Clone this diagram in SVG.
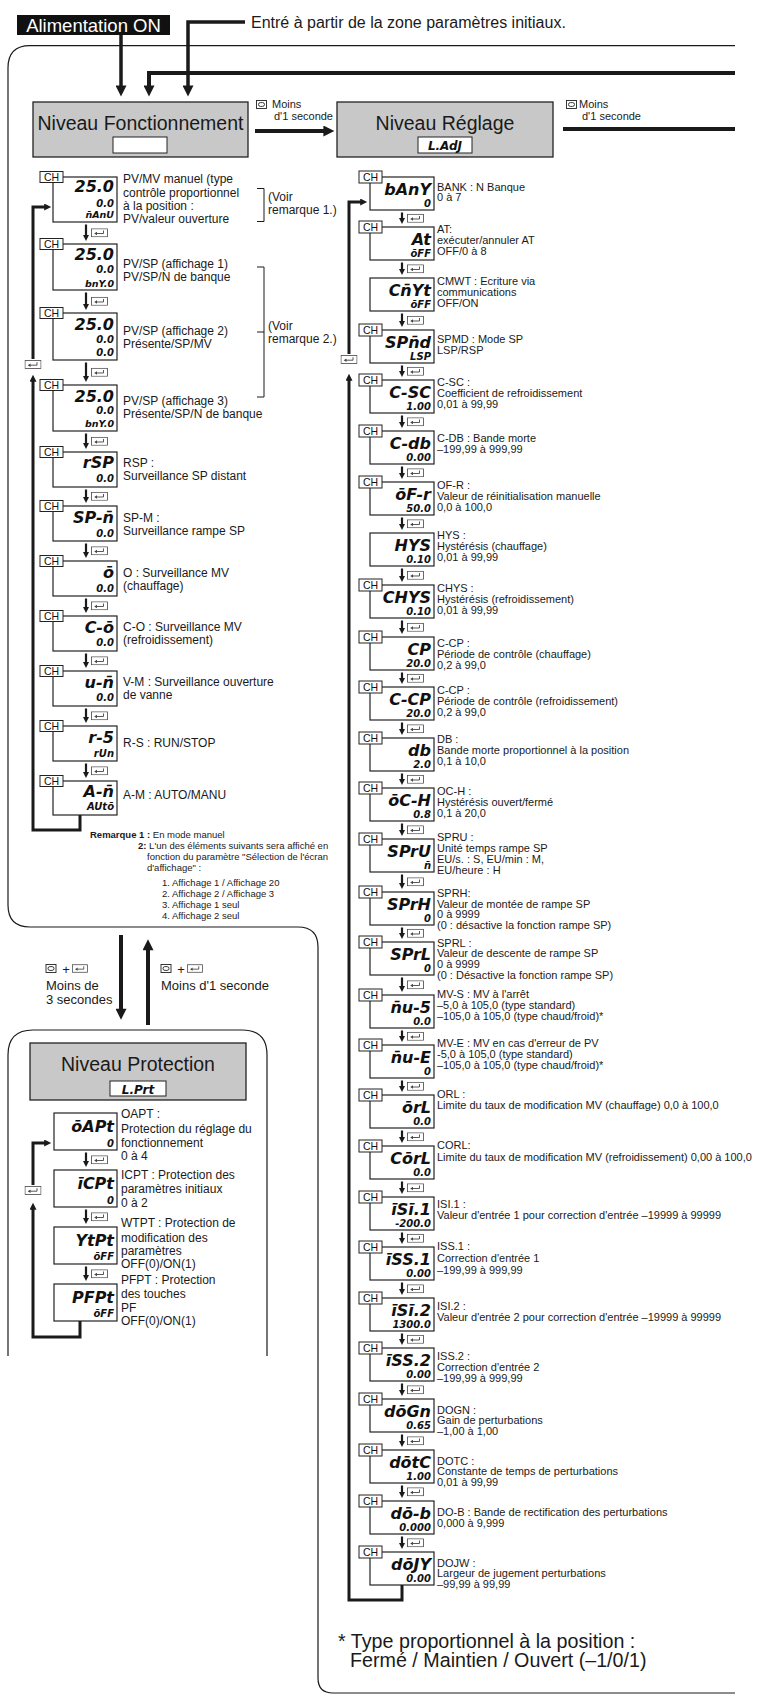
<svg xmlns="http://www.w3.org/2000/svg" width="759" height="1698" viewBox="0 0 759 1698">
<defs>
<style>
.t{font-family:"Liberation Sans",Arial,Helvetica,sans-serif;fill:#1a1a1a}
.wt{font-family:"Liberation Sans",Arial,Helvetica,sans-serif;fill:#fff}
.lb{font-size:12px}
.rl{font-size:11px}
.rm{font-size:9.5px}
.sm{font-size:11px}
.big{font-size:13px}
.ttl{font-size:19.5px;text-anchor:middle}
.ft{font-size:19.7px}
.lcd{font-family:"DejaVu Sans",sans-serif;font-style:italic;fill:#111;text-anchor:end}
.lcm{font-family:"DejaVu Sans",sans-serif;font-style:italic;font-weight:bold;font-size:12px;fill:#111;text-anchor:middle}
.s1{font-size:16px;font-weight:bold}
.s2{font-size:10px;font-weight:bold}
.s3{font-size:9.5px;font-weight:bold}
.d{fill:#fff;stroke:#222;stroke-width:1.2}
.ch{fill:#fff;stroke:#222;stroke-width:1}
.cht{font-family:"Liberation Sans",Arial,sans-serif;font-size:10.5px;text-anchor:middle;fill:#111}
.lvl{fill:#c8c8c8;stroke:#222;stroke-width:1.3}
.wb{fill:#fff;stroke:#222;stroke-width:1}
.w{fill:none;stroke:#1a1a1a}
.ar{fill:none;stroke:#1a1a1a;stroke-width:2.2}
.lp{fill:none;stroke:#1a1a1a;stroke-width:3}
</style>
<marker id="ms" viewBox="0 0 10 10" refX="2" refY="5" markerWidth="6" markerHeight="6" markerUnits="userSpaceOnUse" orient="auto"><path d="M0,0L10,5L0,10Z" fill="#1a1a1a"/></marker>
<marker id="mm" viewBox="0 0 10 10" refX="2" refY="5" markerWidth="8" markerHeight="7" markerUnits="userSpaceOnUse" orient="auto"><path d="M0,0L10,5L0,10Z" fill="#1a1a1a"/></marker>
<marker id="mb" viewBox="0 0 10 10" refX="2" refY="5" markerWidth="13" markerHeight="11" markerUnits="userSpaceOnUse" orient="auto"><path d="M0,0L10,5L0,10Z" fill="#1a1a1a"/></marker>
<marker id="ml" viewBox="0 0 10 10" refX="2" refY="5" markerWidth="15" markerHeight="11" markerUnits="userSpaceOnUse" orient="auto"><path d="M0,0L10,5L0,10Z" fill="#1a1a1a"/></marker>
<symbol id="kret" viewBox="0 0 17 9"><rect x="0.5" y="0.5" width="16" height="8" fill="#fff" stroke="#444" stroke-width="0.8"/><path d="M12.5,2.2V5.2H5.5" fill="none" stroke="#444" stroke-width="0.9"/><path d="M6,3.4L3.2,5.2L6,7Z" fill="#444"/></symbol>
<symbol id="kmode" viewBox="0 0 11 9"><rect x="0.5" y="0.5" width="10" height="8" fill="#fff" stroke="#222" stroke-width="0.9"/><rect x="2.5" y="2.6" width="6" height="3.8" rx="1.9" fill="none" stroke="#222" stroke-width="0.9"/></symbol>
</defs>
<rect width="759" height="1698" fill="#fff"/>

<g id="frames">
<path class="w" stroke-width="1.2" d="M735,45.7H30Q8,45.7 8,68V905Q8,927 30,927H298Q318,927 318,947V1678Q318,1693 333,1693H735"/>
<path class="w" stroke-width="1.2" d="M8,1356V1055Q8,1030 33,1030H242Q267,1030 267,1055V1356"/>
</g>

<g id="power"><rect x="17" y="15" width="153" height="20" fill="#111"/><text class="wt" x="93.5" y="31.5" font-size="18.5" text-anchor="middle">Alimentation ON</text></g>
<g id="entry-note"><text class="t" x="251" y="28" font-size="16">Entré à partir de la zone paramètres initiaux.</text></g>

<g id="connectors">
<path class="w" stroke-width="3.5" d="M121,35V87.6" marker-end="url(#mb)"/>
<path class="w" stroke-width="4" d="M735,73H149V87.6" marker-end="url(#mb)"/>
<path class="w" stroke-width="3.5" d="M245,22H188V87.6" marker-end="url(#mb)"/>
<path class="w" stroke-width="4" d="M255,131H325.6" marker-end="url(#mb)"/>
<path class="w" stroke-width="4" d="M563,129H735"/>
<path class="w" stroke-width="4" d="M121,935V1011" marker-end="url(#ml)"/>
<path class="w" stroke-width="4" d="M148,1025V948" marker-end="url(#ml)"/>
<use href="#kmode" x="256" y="100" width="11" height="9"/>
<text class="t sm" x="272" y="108">Moins</text><text class="t sm" x="274" y="120">d'1 seconde</text>
<use href="#kmode" x="566" y="100" width="11" height="9"/>
<text class="t sm" x="579" y="108">Moins</text><text class="t sm" x="582" y="120">d'1 seconde</text>
<use href="#kmode" x="45" y="964" width="12" height="9"/><text class="t big" x="66" y="974" text-anchor="middle">+</text><use href="#kret" x="72" y="964" width="16" height="9"/>
<text class="t big" x="46" y="990">Moins de</text><text class="t big" x="46" y="1004">3 secondes</text>
<use href="#kmode" x="160" y="964" width="12" height="9"/><text class="t big" x="181" y="974" text-anchor="middle">+</text><use href="#kret" x="187" y="964" width="16" height="9"/>
<text class="t big" x="161" y="990">Moins d'1 seconde</text>

<path class="ar" d="M86,224.5V236.2" marker-end="url(#ms)"/><use href="#kret" x="91" y="228.3" width="17" height="9"/>
<path class="ar" d="M86,292.5V305.2" marker-end="url(#ms)"/><use href="#kret" x="91" y="296.8" width="17" height="9"/>
<path class="ar" d="M86,362.5V377.2" marker-end="url(#ms)"/><use href="#kret" x="91" y="367.8" width="17" height="9"/>
<path class="ar" d="M86,433.5V444.2" marker-end="url(#ms)"/><use href="#kret" x="91" y="436.8" width="17" height="9"/>
<path class="ar" d="M86,489.5V498.2" marker-end="url(#ms)"/><use href="#kret" x="91" y="491.8" width="17" height="9"/>
<path class="ar" d="M86,543.5V553.2" marker-end="url(#ms)"/><use href="#kret" x="91" y="546.3" width="17" height="9"/>
<path class="ar" d="M86,598.5V608.2" marker-end="url(#ms)"/><use href="#kret" x="91" y="601.3" width="17" height="9"/>
<path class="ar" d="M86,653.5V663.2" marker-end="url(#ms)"/><use href="#kret" x="91" y="656.3" width="17" height="9"/>
<path class="ar" d="M86,708.5V718.2" marker-end="url(#ms)"/><use href="#kret" x="91" y="711.3" width="17" height="9"/>
<path class="ar" d="M86,763.5V773.2" marker-end="url(#ms)"/><use href="#kret" x="91" y="766.3" width="17" height="9"/>
<path class="lp" d="M80,815V830H33V380.4" marker-end="url(#mm)"/>
<use href="#kret" x="24.5" y="360" width="17" height="9"/>
<path class="lp" d="M33,359V207H45.6" marker-end="url(#mm)"/>

<path class="ar" d="M86,1152.5V1162.2" marker-end="url(#ms)"/><use href="#kret" x="91" y="1155.3" width="17" height="9"/>
<path class="ar" d="M86,1209.5V1219.2" marker-end="url(#ms)"/><use href="#kret" x="91" y="1212.3" width="17" height="9"/>
<path class="ar" d="M86,1266.5V1276.2" marker-end="url(#ms)"/><use href="#kret" x="91" y="1269.3" width="17" height="9"/>
<path class="lp" d="M80,1321V1337H33V1208.4" marker-end="url(#mm)"/>
<use href="#kret" x="24.5" y="1186" width="17" height="9"/>
<path class="lp" d="M33,1185V1143H45.6" marker-end="url(#mm)"/>

<path class="ar" d="M402,212.5V219.2" marker-end="url(#ms)"/><use href="#kret" x="407" y="213.8" width="17" height="9"/>
<path class="ar" d="M402,262.5V270.2" marker-end="url(#ms)"/><use href="#kret" x="407" y="264.3" width="17" height="9"/>
<path class="ar" d="M402,313.5V322.2" marker-end="url(#ms)"/><use href="#kret" x="407" y="315.8" width="17" height="9"/>
<path class="ar" d="M402,365.5V372.2" marker-end="url(#ms)"/><use href="#kret" x="407" y="366.8" width="17" height="9"/>
<path class="ar" d="M402,415.5V423.2" marker-end="url(#ms)"/><use href="#kret" x="407" y="417.3" width="17" height="9"/>
<path class="ar" d="M402,466.5V474.2" marker-end="url(#ms)"/><use href="#kret" x="407" y="468.3" width="17" height="9"/>
<path class="ar" d="M402,517.5V525.2" marker-end="url(#ms)"/><use href="#kret" x="407" y="519.3" width="17" height="9"/>
<path class="ar" d="M402,568.5V577.2" marker-end="url(#ms)"/><use href="#kret" x="407" y="570.8" width="17" height="9"/>
<path class="ar" d="M402,620.5V629.2" marker-end="url(#ms)"/><use href="#kret" x="407" y="622.8" width="17" height="9"/>
<path class="ar" d="M402,672.5V679.2" marker-end="url(#ms)"/><use href="#kret" x="407" y="673.8" width="17" height="9"/>
<path class="ar" d="M402,722.5V730.2" marker-end="url(#ms)"/><use href="#kret" x="407" y="724.3" width="17" height="9"/>
<path class="ar" d="M402,773.5V780.2" marker-end="url(#ms)"/><use href="#kret" x="407" y="774.8" width="17" height="9"/>
<path class="ar" d="M402,823.5V831.2" marker-end="url(#ms)"/><use href="#kret" x="407" y="825.3" width="17" height="9"/>
<path class="ar" d="M402,874.5V884.2" marker-end="url(#ms)"/><use href="#kret" x="407" y="877.3" width="17" height="9"/>
<path class="ar" d="M402,927.5V934.2" marker-end="url(#ms)"/><use href="#kret" x="407" y="928.8" width="17" height="9"/>
<path class="ar" d="M402,977.5V987.2" marker-end="url(#ms)"/><use href="#kret" x="407" y="980.3" width="17" height="9"/>
<path class="ar" d="M402,1030.5V1037.2" marker-end="url(#ms)"/><use href="#kret" x="407" y="1031.8" width="17" height="9"/>
<path class="ar" d="M402,1080.5V1087.2" marker-end="url(#ms)"/><use href="#kret" x="407" y="1081.8" width="17" height="9"/>
<path class="ar" d="M402,1130.5V1138.2" marker-end="url(#ms)"/><use href="#kret" x="407" y="1132.3" width="17" height="9"/>
<path class="ar" d="M402,1181.5V1189.2" marker-end="url(#ms)"/><use href="#kret" x="407" y="1183.3" width="17" height="9"/>
<path class="ar" d="M402,1232.5V1239.2" marker-end="url(#ms)"/><use href="#kret" x="407" y="1233.8" width="17" height="9"/>
<path class="ar" d="M402,1282.5V1290.2" marker-end="url(#ms)"/><use href="#kret" x="407" y="1284.3" width="17" height="9"/>
<path class="ar" d="M402,1333.5V1340.2" marker-end="url(#ms)"/><use href="#kret" x="407" y="1334.8" width="17" height="9"/>
<path class="ar" d="M402,1383.5V1391.2" marker-end="url(#ms)"/><use href="#kret" x="407" y="1385.3" width="17" height="9"/>
<path class="ar" d="M402,1434.5V1442.2" marker-end="url(#ms)"/><use href="#kret" x="407" y="1436.3" width="17" height="9"/>
<path class="ar" d="M402,1485.5V1493.2" marker-end="url(#ms)"/><use href="#kret" x="407" y="1487.3" width="17" height="9"/>
<path class="ar" d="M402,1536.5V1544.2" marker-end="url(#ms)"/><use href="#kret" x="407" y="1538.3" width="17" height="9"/>
<path class="lp" d="M402,1585V1600H349V379.4" marker-end="url(#mm)"/>
<use href="#kret" x="340.5" y="355" width="17" height="9"/>
<path class="lp" d="M349,354V202H361.6" marker-end="url(#mm)"/>
</g>

<g id="brackets">
<path class="w" stroke-width="1" d="M257,188.5H264V221.5H257"/>
<text class="t lb"><tspan x="268" y="201">(Voir</tspan><tspan x="268" y="214">remarque 1.)</tspan></text>
<path class="w" stroke-width="1" d="M257,267H264V397H257M257,332H264"/>
<text class="t lb"><tspan x="268" y="330">(Voir</tspan><tspan x="268" y="343">remarque 2.)</tspan></text>
</g>

<g id="lvl-fonct"><rect class="lvl" x="33" y="102" width="215" height="55"/><text class="t ttl" x="140.5" y="130">Niveau Fonctionnement</text><rect class="wb" x="113" y="137" width="54" height="16"/></g>
<g id="lvl-reglage"><rect class="lvl" x="337" y="102" width="216" height="55"/><text class="t ttl" x="445" y="130">Niveau Réglage</text><rect class="wb" x="418" y="137" width="54" height="16"/><text class="lcm" x="445" y="150">L.AdJ</text></g>
<g id="lvl-protect"><rect class="lvl" x="30" y="1043" width="216" height="57"/><text class="t ttl" x="138" y="1071">Niveau Protection</text><rect class="wb" x="110" y="1081" width="56" height="15"/><text class="lcm" x="138" y="1093.5">L.Prt</text></g>

<g id="f-pvmv"><rect class="d" x="53" y="177" width="64" height="45"/><rect class="ch" x="40" y="171.5" width="23" height="11"/><text class="cht" x="51.5" y="180.8">CH</text><text class="lcd s1" x="114" y="192">25.0</text><text class="lcd s2" x="114" y="207">0.0</text><text class="lcd s3" x="114" y="218">n̄AnU</text><text class="t lb"><tspan x="123" y="183">PV/MV manuel (type</tspan><tspan x="123" y="197">contrôle proportionnel</tspan><tspan x="123" y="210">à la position :</tspan><tspan x="123" y="223">PV/valeur ouverture</tspan></text></g>
<g id="f-aff1"><rect class="d" x="53" y="244" width="64" height="46"/><rect class="ch" x="40" y="238.5" width="23" height="11"/><text class="cht" x="51.5" y="247.8">CH</text><text class="lcd s1" x="114" y="260">25.0</text><text class="lcd s2" x="114" y="273">0.0</text><text class="lcd s3" x="114" y="287">bnY.0</text><text class="t lb"><tspan x="123" y="268">PV/SP (affichage 1)</tspan><tspan x="123" y="281">PV/SP/N de banque</tspan></text></g>
<g id="f-aff2"><rect class="d" x="53" y="313" width="64" height="47"/><rect class="ch" x="40" y="307.5" width="23" height="11"/><text class="cht" x="51.5" y="316.8">CH</text><text class="lcd s1" x="114" y="330">25.0</text><text class="lcd s2" x="114" y="343">0.0</text><text class="lcd s2" x="114" y="356">0.0</text><text class="t lb"><tspan x="123" y="335">PV/SP (affichage 2)</tspan><tspan x="123" y="348">Présente/SP/MV</tspan></text></g>
<g id="f-aff3"><rect class="d" x="53" y="385" width="64" height="46"/><rect class="ch" x="40" y="379.5" width="23" height="11"/><text class="cht" x="51.5" y="388.8">CH</text><text class="lcd s1" x="114" y="402">25.0</text><text class="lcd s2" x="114" y="414">0.0</text><text class="lcd s3" x="114" y="427">bnY.0</text><text class="t lb"><tspan x="123" y="405">PV/SP (affichage 3)</tspan><tspan x="123" y="418">Présente/SP/N de banque</tspan></text></g>
<g id="f-rsp"><rect class="d" x="53" y="452" width="64" height="35"/><rect class="ch" x="40" y="446.5" width="23" height="11"/><text class="cht" x="51.5" y="455.8">CH</text><text class="lcd s1" x="114" y="468">rSP</text><text class="lcd s2" x="114" y="482">0.0</text><text class="t lb"><tspan x="123" y="467">RSP :</tspan><tspan x="123" y="480">Surveillance SP distant</tspan></text></g>
<g id="f-spm"><rect class="d" x="53" y="506" width="64" height="35"/><rect class="ch" x="40" y="500.5" width="23" height="11"/><text class="cht" x="51.5" y="509.8">CH</text><text class="lcd s1" x="114" y="523">SP-n̄</text><text class="lcd s2" x="114" y="537">0.0</text><text class="t lb"><tspan x="123" y="522">SP-M :</tspan><tspan x="123" y="535">Surveillance rampe SP</tspan></text></g>
<g id="f-o"><rect class="d" x="53" y="561" width="64" height="35"/><rect class="ch" x="40" y="555.5" width="23" height="11"/><text class="cht" x="51.5" y="564.8">CH</text><text class="lcd s1" x="114" y="578">ō</text><text class="lcd s2" x="114" y="592">0.0</text><text class="t lb"><tspan x="123" y="577">O : Surveillance MV</tspan><tspan x="123" y="590">(chauffage)</tspan></text></g>
<g id="f-co"><rect class="d" x="53" y="616" width="64" height="35"/><rect class="ch" x="40" y="610.5" width="23" height="11"/><text class="cht" x="51.5" y="619.8">CH</text><text class="lcd s1" x="114" y="633">C-ō</text><text class="lcd s2" x="114" y="646">0.0</text><text class="t lb"><tspan x="123" y="631">C-O : Surveillance MV</tspan><tspan x="123" y="644">(refroidissement)</tspan></text></g>
<g id="f-vm"><rect class="d" x="53" y="671" width="64" height="35"/><rect class="ch" x="40" y="665.5" width="23" height="11"/><text class="cht" x="51.5" y="674.8">CH</text><text class="lcd s1" x="114" y="688">u-n̄</text><text class="lcd s2" x="114" y="701">0.0</text><text class="t lb"><tspan x="123" y="686">V-M : Surveillance ouverture</tspan><tspan x="123" y="699">de vanne</tspan></text></g>
<g id="f-rs"><rect class="d" x="53" y="726" width="64" height="35"/><rect class="ch" x="40" y="720.5" width="23" height="11"/><text class="cht" x="51.5" y="729.8">CH</text><text class="lcd s1" x="114" y="743">r-5</text><text class="lcd s2" x="114" y="757">rUn</text><text class="t lb" x="123" y="747">R-S : RUN/STOP</text></g>
<g id="f-am"><rect class="d" x="53" y="781" width="64" height="34"/><rect class="ch" x="40" y="775.5" width="23" height="11"/><text class="cht" x="51.5" y="784.8">CH</text><text class="lcd s1" x="114" y="797">A-n̄</text><text class="lcd s2" x="114" y="810">AUtō</text><text class="t lb" x="123" y="799">A-M : AUTO/MANU</text></g>

<g id="remarks">
<text class="t rm" x="90" y="838"><tspan font-weight="bold">Remarque 1 :</tspan> En mode manuel</text>
<text class="t rm" x="138" y="849"><tspan font-weight="bold">2:</tspan> L'un des éléments suivants sera affiché en</text>
<text class="t rm" x="147" y="860">fonction du paramètre "Sélection de l'écran</text>
<text class="t rm" x="147" y="871">d'affichage" :</text>
<text class="t rm"><tspan x="162" y="886">1. Affichage 1 / Affichage 20</tspan><tspan x="162" y="897">2. Affichage 2 / Affichage 3</tspan><tspan x="162" y="908">3. Affichage 1 seul</tspan><tspan x="162" y="919">4. Affichage 2 seul</tspan></text>
</g>

<g id="p-oapt"><rect class="d" x="54" y="1113" width="63" height="37"/><text class="lcd s1" x="114" y="1132">ōAPt</text><text class="lcd s2" x="114" y="1147">0</text><text class="t lb"><tspan x="121" y="1118">OAPT :</tspan><tspan x="121" y="1133">Protection du réglage du</tspan><tspan x="121" y="1147">fonctionnement</tspan><tspan x="121" y="1160">0 à 4</tspan></text></g>
<g id="p-icpt"><rect class="d" x="54" y="1170" width="63" height="37"/><text class="lcd s1" x="114" y="1189">īCPt</text><text class="lcd s2" x="114" y="1204">0</text><text class="t lb"><tspan x="121" y="1179">ICPT : Protection des</tspan><tspan x="121" y="1193">paramètres initiaux</tspan><tspan x="121" y="1207">0 à 2</tspan></text></g>
<g id="p-wtpt"><rect class="d" x="54" y="1227" width="63" height="37"/><text class="lcd s1" x="114" y="1246">YtPt</text><text class="lcd s2" x="114" y="1260">ōFF</text><text class="t lb"><tspan x="121" y="1227">WTPT : Protection de</tspan><tspan x="121" y="1242">modification des</tspan><tspan x="121" y="1255">paramètres</tspan><tspan x="121" y="1268">OFF(0)/ON(1)</tspan></text></g>
<g id="p-pfpt"><rect class="d" x="54" y="1284" width="63" height="37"/><text class="lcd s1" x="114" y="1303">PFPt</text><text class="lcd s2" x="114" y="1317">ōFF</text><text class="t lb"><tspan x="121" y="1284">PFPT : Protection</tspan><tspan x="121" y="1298">des touches</tspan><tspan x="121" y="1312">PF</tspan><tspan x="121" y="1325">OFF(0)/ON(1)</tspan></text></g>

<g id="r-bank"><rect class="d" x="370" y="177" width="64" height="33"/><rect class="ch" x="359" y="171" width="23" height="12"/><text class="cht" x="370.5" y="181">CH</text><text class="lcd s1" x="431" y="195">bAnY</text><text class="lcd s2" x="431" y="207">0</text><text class="t rl"><tspan x="437" y="191">BANK : N Banque</tspan><tspan x="437" y="201">0 à 7</tspan></text></g>
<g id="r-at"><rect class="d" x="370" y="227" width="64" height="33"/><rect class="ch" x="359" y="221" width="23" height="12"/><text class="cht" x="370.5" y="231">CH</text><text class="lcd s1" x="431" y="245">At</text><text class="lcd s2" x="431" y="257">ōFF</text><text class="t rl"><tspan x="437" y="233">AT:</tspan><tspan x="437" y="244">exécuter/annuler AT</tspan><tspan x="437" y="255">OFF/0 à 8</tspan></text></g>
<g id="r-cmwt"><rect class="d" x="370" y="278" width="64" height="33"/><text class="lcd s1" x="431" y="296">Cn̄Yt</text><text class="lcd s2" x="431" y="308">ōFF</text><text class="t rl"><tspan x="437" y="285">CMWT : Ecriture via</tspan><tspan x="437" y="296">communications</tspan><tspan x="437" y="307">OFF/ON</tspan></text></g>
<g id="r-spmd"><rect class="d" x="370" y="330" width="64" height="33"/><rect class="ch" x="359" y="324" width="23" height="12"/><text class="cht" x="370.5" y="334">CH</text><text class="lcd s1" x="431" y="348">SPn̄d</text><text class="lcd s2" x="431" y="360">LSP</text><text class="t rl"><tspan x="437" y="343">SPMD : Mode SP</tspan><tspan x="437" y="354">LSP/RSP</tspan></text></g>
<g id="r-csc"><rect class="d" x="370" y="380" width="64" height="33"/><rect class="ch" x="359" y="374" width="23" height="12"/><text class="cht" x="370.5" y="384">CH</text><text class="lcd s1" x="431" y="398">C-SC</text><text class="lcd s2" x="431" y="410">1.00</text><text class="t rl"><tspan x="437" y="386">C-SC :</tspan><tspan x="437" y="397">Coefficient de refroidissement</tspan><tspan x="437" y="408">0,01 à 99,99</tspan></text></g>
<g id="r-cdb"><rect class="d" x="370" y="431" width="64" height="33"/><rect class="ch" x="359" y="425" width="23" height="12"/><text class="cht" x="370.5" y="435">CH</text><text class="lcd s1" x="431" y="449">C-db</text><text class="lcd s2" x="431" y="461">0.00</text><text class="t rl"><tspan x="437" y="442">C-DB : Bande morte</tspan><tspan x="437" y="453">–199,99 à 999,99</tspan></text></g>
<g id="r-ofr"><rect class="d" x="370" y="482" width="64" height="33"/><rect class="ch" x="359" y="476" width="23" height="12"/><text class="cht" x="370.5" y="486">CH</text><text class="lcd s1" x="431" y="500">ōF-r</text><text class="lcd s2" x="431" y="512">50.0</text><text class="t rl"><tspan x="437" y="489">OF-R :</tspan><tspan x="437" y="500">Valeur de réinitialisation manuelle</tspan><tspan x="437" y="511">0,0 à 100,0</tspan></text></g>
<g id="r-hys"><rect class="d" x="370" y="533" width="64" height="33"/><text class="lcd s1" x="431" y="551">HYS</text><text class="lcd s2" x="431" y="563">0.10</text><text class="t rl"><tspan x="437" y="539">HYS :</tspan><tspan x="437" y="550">Hystérésis (chauffage)</tspan><tspan x="437" y="561">0,01 à 99,99</tspan></text></g>
<g id="r-chys"><rect class="d" x="370" y="585" width="64" height="33"/><rect class="ch" x="359" y="579" width="23" height="12"/><text class="cht" x="370.5" y="589">CH</text><text class="lcd s1" x="431" y="603">CHYS</text><text class="lcd s2" x="431" y="615">0.10</text><text class="t rl"><tspan x="437" y="592">CHYS :</tspan><tspan x="437" y="603">Hystérésis (refroidissement)</tspan><tspan x="437" y="614">0,01 à 99,99</tspan></text></g>
<g id="r-ccp1"><rect class="d" x="370" y="637" width="64" height="33"/><rect class="ch" x="359" y="631" width="23" height="12"/><text class="cht" x="370.5" y="641">CH</text><text class="lcd s1" x="431" y="655">CP</text><text class="lcd s2" x="431" y="667">20.0</text><text class="t rl"><tspan x="437" y="647">C-CP :</tspan><tspan x="437" y="658">Période de contrôle (chauffage)</tspan><tspan x="437" y="669">0,2 à 99,0</tspan></text></g>
<g id="r-ccp2"><rect class="d" x="370" y="687" width="64" height="33"/><rect class="ch" x="359" y="681" width="23" height="12"/><text class="cht" x="370.5" y="691">CH</text><text class="lcd s1" x="431" y="705">C-CP</text><text class="lcd s2" x="431" y="717">20.0</text><text class="t rl"><tspan x="437" y="694">C-CP :</tspan><tspan x="437" y="705">Période de contrôle (refroidissement)</tspan><tspan x="437" y="716">0,2 à 99,0</tspan></text></g>
<g id="r-db"><rect class="d" x="370" y="738" width="64" height="33"/><rect class="ch" x="359" y="732" width="23" height="12"/><text class="cht" x="370.5" y="742">CH</text><text class="lcd s1" x="431" y="756">db</text><text class="lcd s2" x="431" y="768">2.0</text><text class="t rl"><tspan x="437" y="743">DB :</tspan><tspan x="437" y="754">Bande morte proportionnel à la position</tspan><tspan x="437" y="765">0,1 à 10,0</tspan></text></g>
<g id="r-och"><rect class="d" x="370" y="788" width="64" height="33"/><rect class="ch" x="359" y="782" width="23" height="12"/><text class="cht" x="370.5" y="792">CH</text><text class="lcd s1" x="431" y="806">ōC-H</text><text class="lcd s2" x="431" y="818">0.8</text><text class="t rl"><tspan x="437" y="795">OC-H :</tspan><tspan x="437" y="806">Hystérésis ouvert/fermé</tspan><tspan x="437" y="817">0,1 à 20,0</tspan></text></g>
<g id="r-spru"><rect class="d" x="370" y="839" width="64" height="33"/><rect class="ch" x="359" y="833" width="23" height="12"/><text class="cht" x="370.5" y="843">CH</text><text class="lcd s1" x="431" y="857">SPrU</text><text class="lcd s2" x="431" y="869">n̄</text><text class="t rl"><tspan x="437" y="841">SPRU :</tspan><tspan x="437" y="852">Unité temps rampe SP</tspan><tspan x="437" y="863">EU/s. : S, EU/min : M,</tspan><tspan x="437" y="874">EU/heure : H</tspan></text></g>
<g id="r-sprh"><rect class="d" x="370" y="892" width="64" height="33"/><rect class="ch" x="359" y="886" width="23" height="12"/><text class="cht" x="370.5" y="896">CH</text><text class="lcd s1" x="431" y="910">SPrH</text><text class="lcd s2" x="431" y="922">0</text><text class="t rl"><tspan x="437" y="897">SPRH:</tspan><tspan x="437" y="908">Valeur de montée de rampe SP</tspan><tspan x="437" y="918">0 à 9999</tspan><tspan x="437" y="929">(0 : désactive la fonction rampe SP)</tspan></text></g>
<g id="r-sprl"><rect class="d" x="370" y="942" width="64" height="33"/><rect class="ch" x="359" y="936" width="23" height="12"/><text class="cht" x="370.5" y="946">CH</text><text class="lcd s1" x="431" y="960">SPrL</text><text class="lcd s2" x="431" y="972">0</text><text class="t rl"><tspan x="437" y="947">SPRL :</tspan><tspan x="437" y="957">Valeur de descente de rampe SP</tspan><tspan x="437" y="968">0 à 9999</tspan><tspan x="437" y="979">(0 : Désactive la fonction rampe SP)</tspan></text></g>
<g id="r-mvs"><rect class="d" x="370" y="995" width="64" height="33"/><rect class="ch" x="359" y="989" width="23" height="12"/><text class="cht" x="370.5" y="999">CH</text><text class="lcd s1" x="431" y="1013">n̄u-5</text><text class="lcd s2" x="431" y="1025">0.0</text><text class="t rl"><tspan x="437" y="998">MV-S : MV à l'arrêt</tspan><tspan x="437" y="1009">–5,0 à 105,0 (type standard)</tspan><tspan x="437" y="1020">–105,0 à 105,0 (type chaud/froid)*</tspan></text></g>
<g id="r-mve"><rect class="d" x="370" y="1045" width="64" height="33"/><rect class="ch" x="359" y="1039" width="23" height="12"/><text class="cht" x="370.5" y="1049">CH</text><text class="lcd s1" x="431" y="1063">n̄u-E</text><text class="lcd s2" x="431" y="1075">0</text><text class="t rl"><tspan x="437" y="1047">MV-E : MV en cas d'erreur de PV</tspan><tspan x="437" y="1058">-5,0 à 105,0 (type standard)</tspan><tspan x="437" y="1069">–105,0 à 105,0 (type chaud/froid)*</tspan></text></g>
<g id="r-orl"><rect class="d" x="370" y="1095" width="64" height="33"/><rect class="ch" x="359" y="1089" width="23" height="12"/><text class="cht" x="370.5" y="1099">CH</text><text class="lcd s1" x="431" y="1113">ōrL</text><text class="lcd s2" x="431" y="1125">0.0</text><text class="t rl"><tspan x="437" y="1098">ORL :</tspan><tspan x="437" y="1109">Limite du taux de modification MV (chauffage) 0,0 à 100,0</tspan></text></g>
<g id="r-corl"><rect class="d" x="370" y="1146" width="64" height="33"/><rect class="ch" x="359" y="1140" width="23" height="12"/><text class="cht" x="370.5" y="1150">CH</text><text class="lcd s1" x="431" y="1164">CōrL</text><text class="lcd s2" x="431" y="1176">0.0</text><text class="t rl"><tspan x="437" y="1149">CORL:</tspan><tspan x="437" y="1161">Limite du taux de modification MV (refroidissement) 0,00 à 100,0</tspan></text></g>
<g id="r-isi1"><rect class="d" x="370" y="1197" width="64" height="33"/><rect class="ch" x="359" y="1191" width="23" height="12"/><text class="cht" x="370.5" y="1201">CH</text><text class="lcd s1" x="431" y="1215">īSī.1</text><text class="lcd s2" x="431" y="1227">-200.0</text><text class="t rl"><tspan x="437" y="1208">ISI.1 :</tspan><tspan x="437" y="1219">Valeur d'entrée 1 pour correction d'entrée –19999 à 99999</tspan></text></g>
<g id="r-iss1"><rect class="d" x="370" y="1247" width="64" height="33"/><rect class="ch" x="359" y="1241" width="23" height="12"/><text class="cht" x="370.5" y="1251">CH</text><text class="lcd s1" x="431" y="1265">īSS.1</text><text class="lcd s2" x="431" y="1277">0.00</text><text class="t rl"><tspan x="437" y="1250">ISS.1 :</tspan><tspan x="437" y="1262">Correction d'entrée 1</tspan><tspan x="437" y="1274">–199,99 à 999,99</tspan></text></g>
<g id="r-isi2"><rect class="d" x="370" y="1298" width="64" height="33"/><rect class="ch" x="359" y="1292" width="23" height="12"/><text class="cht" x="370.5" y="1302">CH</text><text class="lcd s1" x="431" y="1316">īSī.2</text><text class="lcd s2" x="431" y="1328">1300.0</text><text class="t rl"><tspan x="437" y="1310">ISI.2 :</tspan><tspan x="437" y="1321">Valeur d'entrée 2 pour correction d'entrée –19999 à 99999</tspan></text></g>
<g id="r-iss2"><rect class="d" x="370" y="1348" width="64" height="33"/><rect class="ch" x="359" y="1342" width="23" height="12"/><text class="cht" x="370.5" y="1352">CH</text><text class="lcd s1" x="431" y="1366">īSS.2</text><text class="lcd s2" x="431" y="1378">0.00</text><text class="t rl"><tspan x="437" y="1360">ISS.2 :</tspan><tspan x="437" y="1371">Correction d'entrée 2</tspan><tspan x="437" y="1382">–199,99 à 999,99</tspan></text></g>
<g id="r-dogn"><rect class="d" x="370" y="1399" width="64" height="33"/><rect class="ch" x="359" y="1393" width="23" height="12"/><text class="cht" x="370.5" y="1403">CH</text><text class="lcd s1" x="431" y="1417">dōGn</text><text class="lcd s2" x="431" y="1429">0.65</text><text class="t rl"><tspan x="437" y="1414">DOGN :</tspan><tspan x="437" y="1424">Gain de perturbations</tspan><tspan x="437" y="1435">–1,00 à 1,00</tspan></text></g>
<g id="r-dotc"><rect class="d" x="370" y="1450" width="64" height="33"/><rect class="ch" x="359" y="1444" width="23" height="12"/><text class="cht" x="370.5" y="1454">CH</text><text class="lcd s1" x="431" y="1468">dōtC</text><text class="lcd s2" x="431" y="1480">1.00</text><text class="t rl"><tspan x="437" y="1465">DOTC :</tspan><tspan x="437" y="1475">Constante de temps de perturbations</tspan><tspan x="437" y="1486">0,01 à 99,99</tspan></text></g>
<g id="r-dob"><rect class="d" x="370" y="1501" width="64" height="33"/><rect class="ch" x="359" y="1495" width="23" height="12"/><text class="cht" x="370.5" y="1505">CH</text><text class="lcd s1" x="431" y="1519">dō-b</text><text class="lcd s2" x="431" y="1531">0.000</text><text class="t rl"><tspan x="437" y="1516">DO-B : Bande de rectification des perturbations</tspan><tspan x="437" y="1527">0,000 à 9,999</tspan></text></g>
<g id="r-dojw"><rect class="d" x="370" y="1552" width="64" height="33"/><rect class="ch" x="359" y="1546" width="23" height="12"/><text class="cht" x="370.5" y="1556">CH</text><text class="lcd s1" x="431" y="1570">dōJY</text><text class="lcd s2" x="431" y="1582">0.00</text><text class="t rl"><tspan x="437" y="1567">DOJW :</tspan><tspan x="437" y="1577">Largeur de jugement perturbations</tspan><tspan x="437" y="1588">–99,99 à 99,99</tspan></text></g>

<g id="footnote"><text class="t ft"><tspan x="338" y="1648">* Type proportionnel à la position :</tspan><tspan x="350" y="1667">Fermé / Maintien / Ouvert (–1/0/1)</tspan></text></g>
</svg>
